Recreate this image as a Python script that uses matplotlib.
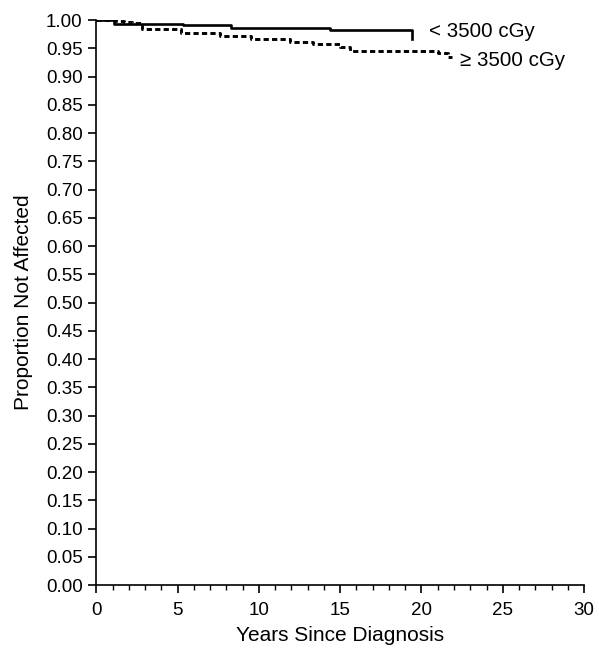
import matplotlib
matplotlib.use("Agg")
import matplotlib.pyplot as plt
from matplotlib.ticker import MultipleLocator, FormatStrFormatter

plt.rcParams['font.family'] = ['Liberation Sans', 'DejaVu Sans']

# Kaplan-Meier steps
low_dose_years = [0, 1.1, 5.3, 8.3, 14.4, 19.4]
low_dose_prop = [1.0, 0.993, 0.991, 0.986, 0.982, 0.967]

high_dose_years = [0, 1.2, 1.7, 2.2, 2.8, 5.2, 7.6, 9.5, 11.9, 13.3, 15.0, 15.6, 21.0, 21.6, 21.9]
high_dose_prop = [1.0, 0.998, 0.996, 0.995, 0.984, 0.978, 0.972, 0.966, 0.962, 0.958, 0.952,
                  0.946, 0.942, 0.934, 0.934]

low_label = "< 3500 cGy"
high_label = "\u2265 3500 cGy"

fig = plt.figure(figsize=(5.99, 6.50), dpi=100)
ax = fig.add_axes([0.161, 0.100, 0.814, 0.869])

ax.step(low_dose_years, low_dose_prop, where='post', color='black', lw=1.9)
ax.step(high_dose_years, high_dose_prop, where='post', color='black', lw=2.1,
        linestyle=(0, (1.8, 1.1)))

ax.text(20.45, 0.971, low_label, fontsize=14.8, va='baseline', ha='left')
ax.text(22.35, 0.918, high_label, fontsize=14.8, va='baseline', ha='left')

ax.set_xlim(0, 30)
ax.set_ylim(0, 1.0)
ax.xaxis.set_major_locator(MultipleLocator(5))
ax.xaxis.set_minor_locator(MultipleLocator(1))
ax.yaxis.set_major_locator(MultipleLocator(0.05))
ax.yaxis.set_major_formatter(FormatStrFormatter('%.2f'))

for s in ['top', 'right']:
    ax.spines[s].set_visible(False)
for s in ['left', 'bottom']:
    ax.spines[s].set_linewidth(1.2)
    ax.spines[s].set_clip_on(False)

ax.tick_params(axis='both', which='major', labelsize=13.5, width=1.2, length=6, direction='out')
ax.tick_params(axis='x', which='major', pad=6)
ax.tick_params(axis='y', which='major', pad=4)
ax.tick_params(axis='x', which='minor', width=1.0, length=3.5, direction='out')

ax.set_xlabel("Years Since Diagnosis", fontsize=15, labelpad=5)
ax.set_ylabel("Proportion Not Affected", fontsize=15, labelpad=9)

plt.savefig('out.png', dpi=100)
